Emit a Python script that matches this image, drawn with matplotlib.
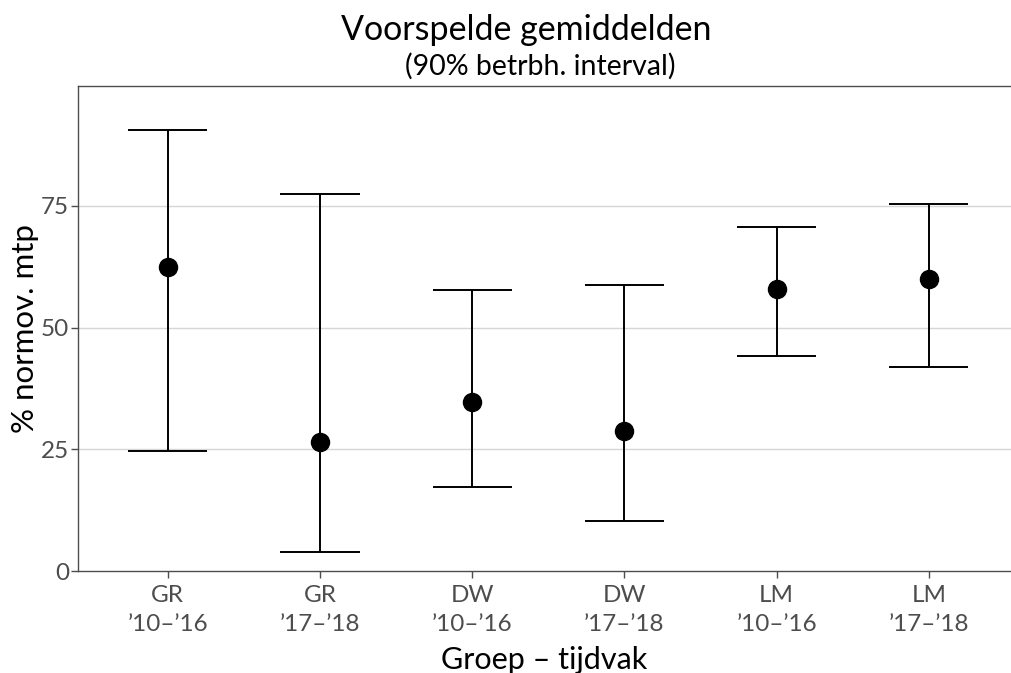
import matplotlib
matplotlib.use('Agg')
import matplotlib.pyplot as plt
import numpy as np

# groups and estimates
groups = ['GR\n\u201910\u2013\u201916', 'GR\n\u201917\u2013\u201918',
          'DW\n\u201910\u2013\u201916', 'DW\n\u201917\u2013\u201918',
          'LM\n\u201910\u2013\u201916', 'LM\n\u201917\u2013\u201918']
means = [62.5, 26.5, 34.7, 28.8, 57.9, 60.0]
lower = [24.7, 3.9, 17.3, 10.3, 44.2, 41.9]
upper = [90.6, 77.5, 57.7, 58.8, 70.7, 75.4]
y_ticks = [0, 25, 50, 75]

plt.rcParams['font.family'] = ['Lato', 'DejaVu Sans']

fig = plt.figure(figsize=(10.11, 6.73), dpi=100)
ax = fig.add_axes([78 / 1011, 1 - 571 / 673, 933 / 1011, 485 / 673])

x = np.arange(len(groups))
means = np.array(means)
lower = np.array(lower)
upper = np.array(upper)

ax.errorbar(x, means, yerr=[means - lower, upper - means], fmt='none',
            ecolor='black', elinewidth=1.4, capsize=0, zorder=3)
# caps
cap_w = 0.26
ax.hlines(lower, x - cap_w, x + cap_w, color='black', linewidth=1.4, zorder=3)
ax.hlines(upper, x - cap_w, x + cap_w, color='black', linewidth=1.4, zorder=3)
ax.plot(x, means, 'o', color='black', markersize=13, zorder=4)

ax.set_xlim(-0.59, 5.54)
ax.set_ylim(0, 99.6)
ax.set_yticks(y_ticks)
ax.set_xticks(x)
ax.set_xticklabels(groups, linespacing=1.45)
ax.yaxis.grid(True, color='#d6d6d6', linewidth=1.0)
ax.set_axisbelow(True)
for gl, t in zip(ax.yaxis.get_gridlines(), y_ticks):
    if t == 0:
        gl.set_visible(False)

ax.spines['right'].set_visible(False)
for s in ['left', 'bottom', 'top']:
    ax.spines[s].set_color('#4d4d4d')
    ax.spines[s].set_linewidth(1.0)
ax.tick_params(axis='both', colors='#4d4d4d', labelsize=17.5, length=5, width=1.0)
ax.tick_params(axis='x', pad=5)
ax.tick_params(axis='y', pad=1.5)

ax.set_xlabel('Groep \u2013 tijdvak', fontsize=22, labelpad=8)
ax.set_ylabel('% normov. mtp', fontsize=22.5, va='center')
ax.yaxis.set_label_coords((25 - 78) / 933, 0.5)

fig.text(526 / 1011, 1 - 30 / 673, 'Voorspelde gemiddelden', fontsize=24.5,
         ha='center', va='center')
fig.text(540 / 1011, 1 - 66 / 673, '(90% betrbh. interval)', fontsize=20.5,
         ha='center', va='center')

fig.savefig('out.png', dpi=100)
